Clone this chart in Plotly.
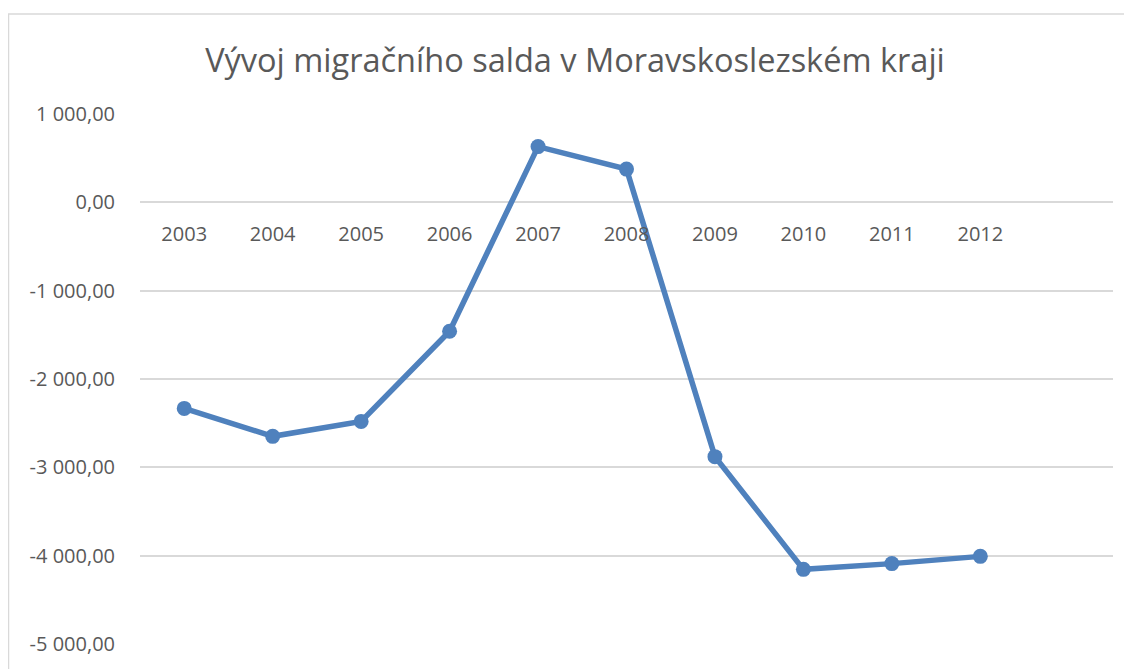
import plotly.graph_objects as go

years = ["2003", "2004", "2005", "2006", "2007", "2008", "2009", "2010", "2011", "2012"]
saldo = [-2333, -2649, -2480, -1460, 631, 376, -2879, -4155, -4090, -4008]
y_ticks = [1000, 0, -1000, -2000, -3000, -4000, -5000]
y_tick_text = ["1 000,00", "0,00", "-1 000,00", "-2 000,00", "-3 000,00", "-4 000,00", "-5 000,00"]

FONT = "Open Sans"
GRAY = "#595959"
BLUE = "#4f81bd"
GRID = "#d9d9d9"

# page body has an 8px offset; figure is sized and placed to compensate
OFF = 8
W, H = 1132 - OFF, 669 - OFF
L, R, T, B = 140 - OFF, 1113 - OFF, 114 - OFF, 646 - OFF
PW, PH = R - L, B - T

x_idx = list(range(len(years)))

fig = go.Figure()
fig.add_trace(go.Scatter(
    x=x_idx, y=saldo, mode="lines+markers",
    line=dict(color=BLUE, width=5.5),
    marker=dict(color=BLUE, size=15),
    showlegend=False, hoverinfo="skip",
))

fig.update_layout(
    width=W, height=H,
    margin=dict(l=L, r=W - R, t=T, b=H - B, pad=0),
    paper_bgcolor="white", plot_bgcolor="white",
    title=dict(
        text="Vývoj migračního salda v Moravskoslezském kraji",
        x=(575 - OFF) / W, xanchor="center", xref="container",
        y=1 - (61 - OFF) / H, yanchor="middle", yref="container",
        font=dict(family=FONT, size=32.5, color=GRAY),
    ),
    xaxis=dict(
        range=[-0.5, 10.5],
        tickmode="array", tickvals=x_idx, ticktext=years,
        showgrid=False, zeroline=False, showline=False,
        ticks="outside", ticklen=14, tickcolor="rgba(0,0,0,0)",
        anchor="free", position=5000 / 6000,
        tickfont=dict(family=FONT, size=20, color=GRAY),
    ),
    yaxis=dict(
        range=[-5000, 1000],
        tickmode="array", tickvals=y_ticks, ticktext=y_tick_text,
        showgrid=True, gridcolor=GRID, gridwidth=1.5,
        zeroline=False, showline=False,
        ticks="outside", ticklen=20, tickcolor="rgba(0,0,0,0)",
        tickfont=dict(family=FONT, size=20, color=GRAY),
    ),
    shapes=[dict(
        type="rect", xref="paper", yref="paper",
        x0=(8.5 - OFF - L) / PW, x1=1.2,
        y0=-0.2, y1=(B - (13.5 - OFF)) / PH,
        line=dict(color=GRID, width=1.5), fillcolor="rgba(0,0,0,0)",
        layer="below",
    )],
)

fig.write_html("out.html")
